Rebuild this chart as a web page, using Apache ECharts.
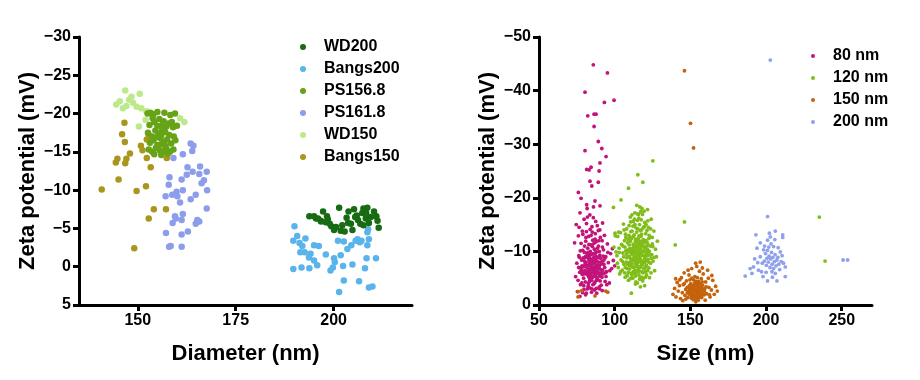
<!DOCTYPE html>
<html><head><meta charset="utf-8">
<script src="https://cdn.jsdelivr.net/npm/echarts@6/dist/echarts.min.js"></script>
<style>html,body{margin:0;padding:0;background:#fff}#c{width:920px;height:380px}</style>
</head><body><div id="c"></div>
<script>
// ---------- Left panel data: [diameter nm, zeta mV] ----------
const leftNames = ['WD200','Bangs200','PS156.8','PS161.8','WD150','Bangs150'];
const leftXTicks = [150,175,200];
const WD200 = [[193.8,-6.6],[195.0,-6.6],[196.0,-6.3],[197.3,-7.2],[196.7,-6.0],[198.0,-5.8],[198.5,-6.2],[199.4,-5.3],[200.1,-4.8],[201.4,-7.7],[201.8,-4.7],[202.8,-4.6],[203.3,-6.4],[203.8,-7.2],[204.4,-5.6],[204.8,-4.8],[205.2,-7.5],[205.9,-6.7],[206.2,-6.1],[206.8,-5.6],[207.6,-7.6],[208.2,-6.3],[208.6,-7.7],[209.0,-5.7],[210.3,-7.2],[210.9,-6.6],[211.2,-6.0],[211.5,-5.1],[198.3,-6.6],[195.5,-6.3],[196.8,-5.9],[199.0,-5.6],[200.6,-5.2],[202.2,-5.4],[203.7,-5.7],[205.5,-6.5],[207.3,-7.0],[208.3,-7.0],[209.5,-6.5],[207.6,-5.4]];
const Bangs200 = [[190.0,-5.3],[189.7,-3.4],[190.7,-4.0],[191.3,-3.1],[192.0,-2.7],[192.8,-3.7],[191.5,-1.9],[192.6,-1.9],[193.7,-1.2],[194.1,-1.7],[195.0,-2.8],[196.2,-2.7],[195.0,-0.8],[195.8,-0.2],[189.7,0.3],[191.8,0.1],[193.8,0.2],[198.0,-1.6],[199.2,0.5],[199.8,0.1],[200.1,-1.1],[200.3,-0.6],[201.1,-3.4],[201.8,-1.5],[202.6,-3.3],[203.5,-2.3],[202.4,-0.1],[204.8,-0.3],[202.6,1.8],[204.5,-2.8],[205.6,-3.4],[206.1,-3.6],[206.7,-3.2],[207.1,-3.4],[206.5,1.9],[208.4,-1.1],[208.0,0.2],[208.6,-4.5],[209.0,-3.6],[208.6,-2.8],[210.8,-1.1],[209.0,2.7],[209.9,2.6],[201.4,3.3],[208.8,-4.9]];
const PS156_8 = [[152.5,-20.0],[153.2,-20.1],[154.0,-19.9],[155.0,-20.2],[156.8,-20.1],[158.3,-19.8],[159.5,-20.0],[153.0,-18.5],[154.2,-18.9],[155.5,-19.3],[156.6,-19.0],[157.8,-18.7],[159.0,-18.2],[160.0,-18.4],[152.6,-17.5],[153.6,-17.0],[154.5,-17.8],[155.3,-17.4],[156.2,-18.0],[157.0,-17.6],[158.0,-17.2],[159.2,-17.0],[153.1,-16.2],[154.0,-16.5],[155.0,-15.9],[155.8,-16.8],[156.7,-16.3],[157.5,-16.6],[158.5,-16.1],[159.6,-16.5],[152.8,-15.3],[153.7,-15.0],[154.6,-15.5],[155.6,-15.2],[156.4,-15.0],[157.3,-15.4],[158.2,-15.0],[159.1,-15.3],[154.2,-14.7],[156.0,-14.6],[157.7,-14.8],[155.0,-18.4],[156.0,-17.2],[157.3,-18.3],[158.7,-18.9],[153.8,-19.4],[155.9,-16.0],[154.8,-16.9],[157.0,-15.8],[156.4,-18.6]];
const PS161_8 = [[163.5,-16.1],[164.2,-15.8],[163.9,-15.1],[161.5,-14.7],[159.1,-14.2],[157.4,-14.9],[162.7,-13.0],[165.9,-13.1],[167.6,-12.4],[164.0,-12.4],[162.5,-12.0],[165.7,-12.1],[161.2,-11.4],[158.1,-11.7],[166.9,-11.3],[166.3,-10.9],[157.9,-10.7],[167.7,-10.0],[161.5,-10.0],[159.9,-9.8],[158.8,-9.4],[157.1,-9.2],[164.8,-9.4],[163.5,-8.8],[160.8,-8.4],[160.1,-9.2],[167.6,-7.6],[159.5,-6.6],[161.5,-6.9],[159.7,-6.3],[161.2,-6.1],[165.2,-6.1],[165.7,-5.9],[164.8,-5.6],[158.9,-5.7],[162.8,-4.6],[161.2,-4.2],[157.2,-4.4],[158.4,-2.7],[161.2,-2.6],[158.0,-2.6]];
const WD150 = [[146.8,-23.0],[150.5,-22.6],[148.4,-22.2],[144.5,-21.2],[145.4,-21.6],[147.1,-21.0],[148.8,-21.4],[149.7,-20.9],[150.9,-20.7],[152.2,-20.3],[153.5,-19.9],[150.3,-18.3],[160.8,-19.4],[161.9,-18.9],[147.8,-21.8],[146.2,-20.7],[152.0,-19.2]];
const Bangs150 = [[140.8,-10.1],[149.1,-2.4],[149.7,-9.9],[152.1,-10.5],[152.8,-6.3],[154.1,-7.5],[157.2,-7.5],[145.1,-11.4],[144.4,-13.6],[144.8,-14.1],[146.8,-13.5],[147.1,-14.1],[148.0,-14.8],[146.7,-16.3],[146.0,-17.3],[146.6,-18.8],[150.8,-15.8],[151.2,-15.2],[152.3,-14.2],[153.3,-13.0],[152.3,-16.6],[152.8,-17.2],[157.4,-14.2]];

// ---------- Right panel data: [size nm, zeta mV] ----------
const rightNames = ['80 nm','120 nm','150 nm','200 nm'];
const nm80 = [[85.9,-44.8],[95.2,-43.3],[80.4,-39.7],[93.2,-37.8],[99.6,-38.2],[82.2,-35.3],[86.4,-35.6],[87.7,-35.6],[86.4,-33.3],[89.2,-30.5],[91.5,-29.2],[80.4,-28.8],[94.3,-27.7],[90.3,-26.5],[81.5,-25.3],[84.4,-25.7],[83.1,-25.2],[89.7,-25.0],[83.7,-23.1],[89.2,-22.9],[84.9,-22.2],[76.0,-21.0],[77.8,-19.9],[81.5,-18.7],[90.3,-18.5],[87.0,-19.4],
[74.2,-5.3],[75.0,-7.8],[75.8,-4.6],[76.3,-9.2],[76.9,-6.1],[77.4,-3.8],[77.8,-11.5],[78.1,-8.4],[78.6,-5.7],[79.0,-13.2],[79.3,-7.1],[79.7,-2.9],[80.0,-9.8],[80.2,-6.4],[80.6,-4.3],[80.9,-11.9],[81.1,-8.0],[81.4,-15.2],[81.7,-5.9],[82.0,-7.4],[82.2,-10.6],[82.5,-3.5],[82.8,-12.8],[83.0,-6.7],[83.3,-9.1],[83.5,-4.9],[83.8,-14.1],[84.0,-8.6],[84.2,-6.0],[84.5,-11.2],[84.7,-2.4],[85.0,-7.7],[85.2,-13.6],[85.4,-5.2],[85.7,-9.5],[85.9,-16.3],[86.1,-6.9],[86.4,-4.0],[86.6,-10.4],[86.8,-8.2],[87.1,-12.3],[87.3,-5.6],[87.6,-7.3],[87.8,-3.1],[88.0,-9.9],[88.3,-6.3],[88.5,-14.8],[88.8,-8.8],[89.0,-4.7],[89.3,-11.0],[89.6,-7.0],[89.9,-5.4],[90.2,-9.3],[90.5,-12.6],[90.8,-6.6],[91.1,-3.7],[91.5,-8.1],[91.9,-10.8],[92.3,-5.8],[92.8,-7.6],[93.2,-13.0],[93.7,-4.4],[94.1,-9.0],[94.6,-6.2],[95.2,-11.4],[95.8,-7.9],[96.5,-4.1],[97.3,-9.6],[98.0,-6.8],[99.1,-8.3],
[73.5,-11.6],[74.6,-15.0],[75.4,-2.5],[76.0,-12.9],[76.7,-8.9],[77.1,-17.2],[77.6,-6.9],[78.3,-4.1],[78.9,-10.2],[79.5,-5.0],[80.4,-7.6],[80.8,-1.9],[81.3,-13.7],[81.9,-9.4],[82.4,-5.5],[82.9,-8.5],[83.4,-3.2],[83.9,-10.0],[84.3,-7.2],[84.8,-4.6],[85.3,-10.9],[85.8,-6.5],[86.2,-8.9],[86.7,-2.8],[87.2,-9.7],[87.7,-11.8],[88.2,-5.1],[88.7,-7.5],[89.2,-13.9],[89.7,-9.0],[90.4,-4.5],[91.0,-6.0],[91.7,-12.0],[92.5,-9.1],[93.4,-7.0],[94.3,-5.3],[95.5,-9.8],[96.8,-6.4],[98.5,-10.5],[100.0,-7.3],
[78.0,-6.5],[79.2,-8.8],[80.5,-5.8],[81.6,-7.0],[82.1,-8.9],[82.7,-6.2],[83.2,-7.9],[83.7,-5.7],[84.1,-9.4],[84.6,-6.6],[85.1,-8.4],[85.6,-7.1],[86.0,-5.3],[86.5,-7.8],[87.0,-6.2],[87.4,-8.6],[87.9,-7.2],[88.4,-5.9],[88.9,-6.8],[89.4,-8.0],[90.0,-7.4],[90.6,-5.7],[91.3,-7.7],[92.0,-6.5],[92.9,-8.4],[93.8,-6.0],[85.5,-12.1],[83.6,-16.8],[87.5,-15.6],[81.8,-18.0],[79.8,-16.0],[90.2,-14.0],[76.5,-14.5],[92.0,-15.3],[84.4,-13.0],[86.3,-11.5],[88.6,-10.6],[80.1,-11.0],[82.6,-4.0],[84.9,-3.0],[86.9,-4.2],[88.1,-2.2],[89.8,-3.4],[79.6,-3.6],[77.0,-1.6],[81.2,-2.2],[91.8,-2.7],[94.8,-3.8],
[76.2,-7.0],[77.3,-10.1],[78.4,-7.3],[79.1,-6.0],[79.9,-8.2],[80.7,-9.0],[81.5,-6.3],[82.3,-9.8],[83.1,-5.2],[83.9,-7.4],[84.6,-8.0],[85.3,-6.0],[86.0,-9.6],[86.8,-6.8],[87.6,-9.1],[88.3,-8.1],[89.1,-6.1],[89.8,-10.0],[90.7,-8.7],[91.6,-5.2],[92.6,-10.3],[93.6,-8.8],[81.0,-12.6],[83.0,-11.3],[85.0,-14.6],[87.2,-13.3],[89.5,-12.0],[78.6,-13.8],[82.0,-16.4],[86.0,-18.3],[83.3,-4.4],[85.6,-3.8],[87.9,-4.6],[90.1,-3.0],[78.8,-2.3],[81.9,-3.0],[84.0,-5.4],[86.4,-5.9],[88.6,-7.0],[80.3,-8.8]];
const nm120 = [[101.5,-9.2],[102.0,-12.8],[102.4,-7.0],[102.9,-10.6],[103.3,-5.8],[103.8,-13.5],[104.2,-8.4],[104.6,-11.3],[105.0,-6.5],[105.4,-9.7],[105.8,-15.1],[106.1,-7.6],[106.5,-12.0],[106.9,-5.2],[107.2,-10.1],[107.6,-8.0],[107.9,-14.2],[108.2,-6.8],[108.5,-11.6],[108.8,-9.0],[109.1,-4.6],[109.4,-13.0],[109.7,-7.3],[110.0,-10.5],[110.3,-16.4],[110.6,-8.6],[110.9,-5.9],[111.2,-12.4],[111.5,-9.5],[111.8,-7.1],[112.1,-14.7],[112.4,-6.2],[112.7,-10.9],[113.0,-8.3],[113.3,-17.2],[113.6,-11.8],[113.9,-5.4],[114.2,-9.8],[114.5,-13.6],[114.8,-7.7],[115.1,-15.8],[115.4,-6.6],[115.7,-10.2],[116.0,-12.9],[116.3,-8.9],[116.6,-18.3],[116.9,-5.0],[117.2,-11.1],[117.5,-7.4],[117.8,-14.0],[118.1,-9.3],[118.4,-16.9],[118.7,-6.0],[119.0,-12.2],[119.3,-8.1],[119.6,-10.7],[119.9,-15.4],[120.2,-7.0],[120.5,-13.3],[120.8,-9.6],[121.1,-5.6],[121.4,-11.7],[121.7,-17.8],[122.0,-8.5],[122.3,-14.5],[122.6,-6.9],[122.9,-10.0],[123.3,-12.6],[123.7,-7.8],[124.1,-16.0],[124.5,-9.4],[124.9,-11.4],[125.4,-8.2],[125.9,-13.8],[126.4,-6.4],[127.0,-10.4],[127.6,-9.0],[128.2,-11.9],
[108.0,-8.8],[108.6,-10.3],[109.2,-7.9],[109.8,-9.1],[110.4,-11.9],[110.8,-7.5],[111.3,-10.0],[111.7,-8.4],[112.2,-11.3],[112.6,-7.0],[113.1,-9.7],[113.5,-6.5],[113.8,-12.3],[114.3,-8.0],[114.7,-10.6],[115.0,-7.2],[115.5,-9.2],[115.9,-11.4],[116.2,-6.3],[116.7,-8.7],[117.1,-10.5],[117.4,-12.8],[117.9,-7.9],[118.3,-9.9],[118.8,-11.0],[119.2,-6.8],[119.7,-8.6],[120.1,-10.8],[120.6,-12.0],[121.0,-7.4],[121.5,-9.2],[122.1,-11.2],[112.0,-5.0],[114.0,-4.3],[116.5,-4.8],[118.5,-4.5],[110.2,-4.9],[120.3,-5.2],[113.4,-15.0],[115.3,-14.2],[117.6,-15.9],[111.4,-16.8],[119.4,-17.5],[114.6,-18.6],[116.8,-13.9],[112.9,-13.1],[109.5,-14.8],[121.9,-15.7],[106.8,-10.8],[105.3,-8.1],[104.0,-6.2],[103.0,-9.8],[124.0,-6.0],[125.2,-10.9],[126.1,-8.9],[123.0,-5.1],[107.4,-12.6],[106.2,-14.0],[100.4,-12.9],[100.9,-9.9],[101.8,-7.8],[102.6,-13.6],[117.0,-3.4],[119.8,-3.6],[113.7,-3.9],[115.8,-16.9],[118.0,-18.0],[110.7,-13.7],[122.5,-12.4],[123.5,-9.3],[109.0,-6.1],[107.0,-7.0],
[105.5,-11.0],[106.0,-9.0],[106.6,-6.0],[107.1,-13.2],[107.7,-9.5],[108.3,-5.5],[108.9,-12.2],[109.3,-10.0],[109.9,-6.7],[110.5,-15.5],[111.0,-9.8],[111.6,-6.0],[112.3,-12.8],[112.8,-9.0],[113.2,-5.9],[113.7,-10.8],[114.1,-14.4],[114.4,-7.3],[114.9,-11.8],[115.2,-8.5],[115.6,-12.4],[116.1,-10.0],[116.4,-15.0],[116.8,-7.0],[117.3,-9.6],[117.7,-13.2],[118.2,-8.2],[118.6,-12.0],[119.1,-10.1],[119.5,-14.6],[120.0,-9.0],[120.4,-6.2],[120.9,-11.0],[121.3,-13.9],[121.8,-10.3],[122.4,-8.0],[122.8,-13.0],[123.4,-11.0],[124.2,-8.7],[124.8,-12.6],
[108.4,-7.6],[109.0,-9.9],[109.6,-11.2],[110.1,-8.0],[110.7,-10.2],[111.1,-7.8],[111.9,-10.6],[112.5,-8.6],[113.0,-10.2],[113.4,-7.7],[113.9,-8.9],[114.4,-11.2],[114.8,-9.3],[115.3,-10.8],[115.8,-8.0],[116.2,-9.5],[116.6,-11.9],[117.0,-8.3],[117.5,-10.1],[117.9,-11.5],[118.4,-7.5],[118.9,-9.2],[119.4,-11.6],[119.9,-7.9],[120.4,-10.0],[120.9,-8.4],[121.4,-10.4],[122.0,-9.6],[111.5,-13.8],[113.1,-16.0],[115.0,-17.0],[116.0,-16.2],[117.2,-17.4],[118.8,-14.4],[120.7,-15.0],[112.3,-15.6],[110.0,-12.7],[123.8,-14.2],[114.2,-6.0],[116.0,-5.6],[118.0,-6.2],[111.4,-5.4],[121.8,-6.4],[119.0,-5.0],[115.0,-4.1],[117.6,-5.2],
[99.2,-18.2],[104.2,-19.6],[109.1,-21.8],[118.6,-22.9],[115.3,-24.3],[125.2,-26.9],[111.0,-2.2],[140.0,-11.2],[146.1,-15.5],[235.2,-16.4],[239.0,-8.2],[100.2,-13.4],[99.5,-10.8]];
const nm150 = [[138.5,-2.0],[139.6,-3.1],[140.5,-1.5],[141.3,-4.2],[142.0,-2.6],[142.8,-3.6],[143.5,-1.2],[144.1,-5.1],[144.7,-2.3],[145.3,-3.8],[145.9,-6.0],[146.4,-1.8],[146.9,-2.9],[147.4,-4.5],[147.9,-3.3],[148.3,-1.4],[148.7,-2.5],[149.1,-5.6],[149.5,-3.0],[149.9,-1.9],[150.3,-4.0],[150.6,-2.2],[150.9,-6.8],[151.2,-3.5],[151.5,-1.6],[151.8,-2.8],[152.1,-4.7],[152.4,-1.1],[152.7,-3.2],[153.0,-5.3],[153.3,-2.4],[153.6,-0.6],[153.9,-3.9],[154.2,-7.2],[154.5,-2.0],[154.8,-3.4],[155.1,-1.3],[155.4,-4.4],[155.7,-2.7],[156.0,-6.3],[156.4,-3.0],[156.8,-1.7],[157.2,-4.9],[157.6,-2.3],[158.0,-3.7],[158.5,-5.8],[159.0,-1.9],[159.5,-3.1],[160.1,-4.3],[160.7,-2.1],[161.4,-6.5],[162.2,-3.3],[163.0,-1.5],[163.9,-2.8],[164.8,-4.6],[165.8,-2.0],[166.7,-3.5],[167.8,-2.6],
[150.0,-2.6],[150.8,-1.8],[151.4,-3.1],[152.0,-2.1],[152.6,-2.9],[153.2,-1.6],[153.8,-2.5],[154.4,-3.0],[155.0,-2.2],[155.6,-1.9],[156.2,-2.6],[156.9,-3.3],[157.5,-1.4],[154.0,-1.0],[152.9,-4.1],[155.3,-3.6],[151.0,-5.0],[158.2,-2.9],[149.0,-2.1],[147.0,-1.1],[145.0,-0.8],[159.8,-0.9],[143.0,-4.7],[161.9,-5.0],[156.5,-8.0],[153.5,-7.8],[157.9,-6.9],[148.5,-6.5],[146.0,-4.0],[162.6,-1.9],[164.2,-5.5],[140.3,-4.9],
[148.0,-2.3],[149.3,-3.6],[150.5,-1.3],[151.6,-2.4],[152.3,-3.7],[153.1,-2.0],[153.7,-3.3],[154.3,-1.7],[154.9,-2.7],[155.5,-3.9],[156.1,-1.5],[156.7,-2.4],[157.3,-3.2],[158.3,-2.0],[159.3,-2.6],[160.4,-3.4],[151.9,-1.0],[155.2,-0.9],[153.4,-4.4],[150.2,-3.3],[157.8,-4.3],[149.7,-4.7],[154.6,-5.1],[156.3,-4.0],
[146.1,-43.7],[150.1,-33.9],[152.1,-29.3],[76.0,-2.5],[87.0,-1.7],[94.1,-2.6],[95.4,-2.4],[75.8,-1.5],[78.2,-2.7]];
const nm200 = [[186.2,-5.4],[189.5,-6.8],[190.7,-5.9],[191.7,-7.1],[193.3,-13.1],[194.0,-10.6],[195.0,-6.5],[196.2,-11.6],[196.2,-9.0],[198.4,-10.3],[200.6,-8.7],[201.0,-12.1],[201.0,-4.5],[202.8,-12.7],[205.0,-10.9],[206.1,-13.8],[206.1,-5.9],[207.2,-8.4],[207.2,-4.5],[209.4,-9.9],[211.0,-13.1],[211.0,-12.6],[212.7,-7.1],[212.7,-5.3],
[197.5,-7.8],[198.9,-8.2],[199.6,-9.6],[200.2,-7.4],[200.9,-10.2],[201.5,-8.0],[202.0,-9.1],[202.6,-7.0],[203.1,-8.6],[203.6,-9.8],[204.0,-7.6],[204.5,-8.9],[205.0,-6.8],[205.5,-8.1],[206.0,-9.4],[206.6,-7.3],[207.8,-8.9],[208.4,-7.6],[209.0,-6.6],[210.0,-8.1],[210.6,-9.2],[199.0,-11.0],[203.3,-11.4],[205.8,-12.2],[202.2,-13.4],[197.0,-6.2],[194.5,-7.9],[192.5,-8.6],[198.0,-5.3],[204.2,-5.2],[208.0,-10.7],[200.0,-6.1],[211.5,-7.8],[203.9,-6.2],[201.8,-10.8],
[202.8,-45.7],[201.0,-16.5],[250.9,-8.4],[253.9,-8.4]];

const leftColors = {'WD200':'#176b12','Bangs200':'#5ab4ec','PS156.8':'#67a317','PS161.8':'#8c9dec','WD150':'#bce98a','Bangs150':'#a8961d'};
const rightColors = {'80 nm':'#c2137b','120 nm':'#80bd19','150 nm':'#c4630d','200 nm':'#8fa0ec'};

const FONT = 'Liberation Sans, Arial, Helvetica, sans-serif';
const fmtMinus = v => (v < 0 ? '\u2212' + (-v) : String(v));

function axisCommon() {
  return {
    axisLine: {show: true, onZero: false, lineStyle: {color: '#000', width: 3}},
    axisTick: {show: true, inside: false, length: 6, lineStyle: {color: '#000', width: 3}},
    splitLine: {show: false},
    nameTextStyle: {color: '#000', fontWeight: 'bold', fontSize: 22, fontFamily: FONT},
  };
}
const labelStyle = {color: '#000', fontWeight: 'bold', fontSize: 16, fontFamily: FONT, margin: 8};

const chart = echarts.init(document.getElementById('c'), null, {renderer: 'canvas'});
const leftSeriesData = {'WD200': WD200, 'Bangs200': Bangs200, 'PS156.8': PS156_8, 'PS161.8': PS161_8, 'WD150': WD150, 'Bangs150': Bangs150};
const rightSeriesData = {'80 nm': nm80, '120 nm': nm120, '150 nm': nm150, '200 nm': nm200};

const series = [];
leftNames.slice().reverse().forEach(n => series.push({
  type: 'scatter', name: n, xAxisIndex: 0, yAxisIndex: 0, data: leftSeriesData[n],
  symbol: 'circle', symbolSize: 6.5, itemStyle: {color: leftColors[n], opacity: 1}
}));
rightNames.forEach(n => series.push({
  type: 'scatter', name: n, xAxisIndex: 1, yAxisIndex: 1, data: rightSeriesData[n],
  symbol: 'circle', symbolSize: 3.8, itemStyle: {color: rightColors[n], opacity: 1}
}));

const legendText = {color: '#000', fontWeight: 'bold', fontSize: 16, fontFamily: FONT, padding: [0, 0, 0, 13]};

chart.setOption({
  animation: false,
  backgroundColor: '#fff',
  grid: [
    {left: 79, top: 37, width: 333, height: 268, containLabel: false},
    {left: 539, top: 37, width: 333, height: 268, containLabel: false}
  ],
  xAxis: [
    Object.assign(axisCommon(), {
      gridIndex: 0, type: 'value', min: 135, max: 220,
      name: 'Diameter (nm)', nameLocation: 'middle', nameGap: 38,
      axisTick: {show: true, length: 6, lineStyle: {color: '#000', width: 3}, customValues: leftXTicks},
      axisLabel: Object.assign({customValues: leftXTicks}, labelStyle)
    }),
    Object.assign(axisCommon(), {
      gridIndex: 1, type: 'value', min: 50, max: 270, interval: 50,
      name: 'Size (nm)', nameLocation: 'middle', nameGap: 38,
      axisLabel: Object.assign({showMaxLabel: false}, labelStyle)
    })
  ],
  yAxis: [
    Object.assign(axisCommon(), {
      gridIndex: 0, type: 'value', min: -30, max: 5, interval: 5, inverse: true,
      name: 'Zeta potential (mV)', nameLocation: 'middle', nameGap: 40,
      axisLabel: Object.assign({formatter: fmtMinus}, labelStyle)
    }),
    Object.assign(axisCommon(), {
      gridIndex: 1, type: 'value', min: -50, max: 0, interval: 10, inverse: true,
      name: 'Zeta potential (mV)', nameLocation: 'middle', nameGap: 40,
      axisLabel: Object.assign({formatter: fmtMinus}, labelStyle)
    })
  ],
  legend: [
    {data: leftNames, orient: 'vertical', left: 295, top: 34, itemWidth: 6, itemHeight: 6, itemGap: 6,
     icon: 'circle', textStyle: legendText, selectedMode: false},
    {data: rightNames, orient: 'vertical', left: 806, top: 43, itemWidth: 4, itemHeight: 4, itemGap: 6,
     icon: 'circle', textStyle: legendText, selectedMode: false}
  ],
  series: series
});
</script>
</body></html>
